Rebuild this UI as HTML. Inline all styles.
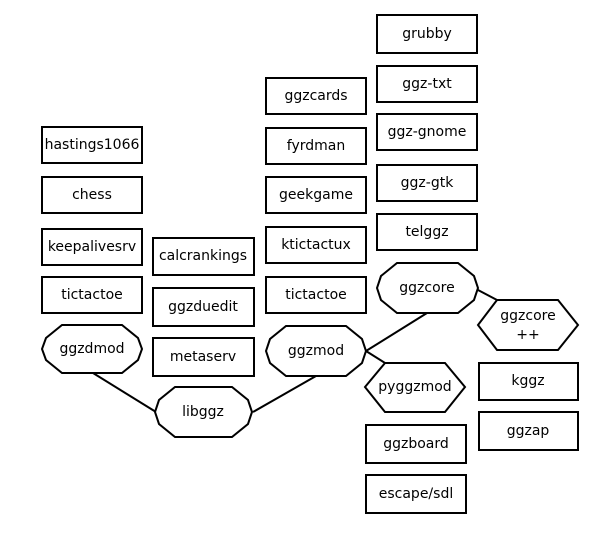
<!DOCTYPE html>
<html><head><style>
html,body{margin:0;padding:0;background:#fff}
text{font-family:"DejaVu Sans","Liberation Sans",sans-serif;font-size:14px;text-anchor:middle;dominant-baseline:central;fill:#000}
</style></head><body>
<svg width="600" height="536" viewBox="0 0 600 536" xmlns="http://www.w3.org/2000/svg">
<g fill="#fff" stroke="#000" stroke-width="2">
<line x1="93" y1="373" x2="156" y2="412"/>
<line x1="253" y1="412" x2="316" y2="376"/>
<line x1="366" y1="351" x2="427" y2="313"/>
<line x1="366" y1="351" x2="385" y2="363"/>
<line x1="478" y1="290" x2="497" y2="300"/>
<rect x="42" y="127" width="100" height="36"/>
<rect x="42" y="177" width="100" height="36"/>
<rect x="42" y="229" width="100" height="36"/>
<rect x="42" y="277" width="100" height="36"/>
<rect x="153" y="238" width="101" height="37"/>
<rect x="153" y="288" width="101" height="38"/>
<rect x="153" y="338" width="101" height="38"/>
<rect x="266" y="78" width="100" height="36"/>
<rect x="266" y="128" width="100" height="36"/>
<rect x="266" y="177" width="100" height="36"/>
<rect x="266" y="227" width="100" height="36"/>
<rect x="266" y="277" width="100" height="36"/>
<rect x="377" y="15" width="100" height="38"/>
<rect x="377" y="66" width="100" height="36"/>
<rect x="377" y="114" width="100" height="36"/>
<rect x="377" y="165" width="100" height="36"/>
<rect x="377" y="214" width="100" height="36"/>
<rect x="479" y="363" width="99" height="37"/>
<rect x="479" y="412" width="99" height="38"/>
<rect x="366" y="425" width="100" height="38"/>
<rect x="366" y="475" width="100" height="38"/>
<polygon points="62,325 122,325 138,338 142,349 138,360 122,373 62,373 46,360 42,349 46,338"/>
<polygon points="175,387 232,387 248,400 252,412 248,424 232,437 175,437 159,424 155,412 159,400"/>
<polygon points="286,326 346,326 362,339 366,351 362,363 346,376 286,376 270,363 266,351 270,339"/>
<polygon points="397,263 458,263 474,276 478,288 474,300 458,313 397,313 381,300 377,288 381,276"/>
<polygon points="497,300 558,300 578,325 558,350 497,350 478,325"/>
<polygon points="385,363 445,363 465,387 445,412 385,412 365,387"/>
</g>
<text x="92" y="145">hastings1066</text>
<text x="92" y="195">chess</text>
<text x="92" y="247">keepalivesrv</text>
<text x="92" y="295">tictactoe</text>
<text x="203" y="256">calcrankings</text>
<text x="203" y="307">ggzduedit</text>
<text x="203" y="357">metaserv</text>
<text x="316" y="96">ggzcards</text>
<text x="316" y="146">fyrdman</text>
<text x="316" y="195">geekgame</text>
<text x="316" y="245">ktictactux</text>
<text x="316" y="295">tictactoe</text>
<text x="427" y="34">grubby</text>
<text x="427" y="84">ggz-txt</text>
<text x="427" y="132">ggz-gnome</text>
<text x="427" y="183">ggz-gtk</text>
<text x="427" y="232">telggz</text>
<text x="528" y="381">kggz</text>
<text x="528" y="431">ggzap</text>
<text x="416" y="444">ggzboard</text>
<text x="416" y="494">escape/sdl</text>
<text x="92" y="349">ggzdmod</text>
<text x="203" y="412">libggz</text>
<text x="316" y="351">ggzmod</text>
<text x="427" y="288">ggzcore</text>
<text x="528" y="316">ggzcore</text>
<text x="528" y="335">++</text>
<text x="415" y="387">pyggzmod</text>
</svg>
</body></html>
